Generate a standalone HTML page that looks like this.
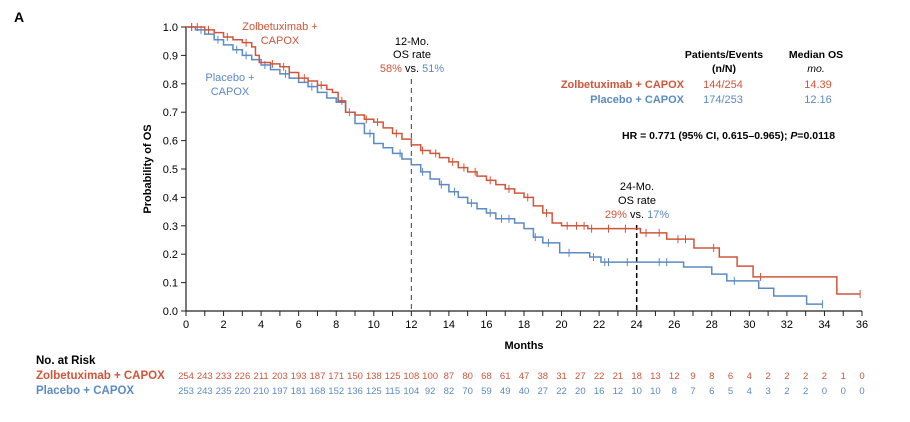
<!DOCTYPE html>
<html><head><meta charset="utf-8"><style>
body{margin:0;background:#fff;width:910px;height:417px;overflow:hidden;font-family:"Liberation Sans",sans-serif}
svg text{font-family:"Liberation Sans",sans-serif}
</style></head><body>
<svg id="chart" width="910" height="417" viewBox="0 0 910 417" xmlns="http://www.w3.org/2000/svg">
<text x="14" y="22" font-size="14" font-weight="bold">A</text>
<g id="axes"></g>
<g id="curves"></g>
<g id="annot">
<text x="280" y="30" font-size="11" fill="#d0553a" text-anchor="middle">Zolbetuximab +</text>
<text x="280" y="44" font-size="11" fill="#d0553a" text-anchor="middle">CAPOX</text>
<text x="230" y="81" font-size="11" fill="#5b8ac4" text-anchor="middle">Placebo +</text>
<text x="230" y="95" font-size="11" fill="#5b8ac4" text-anchor="middle">CAPOX</text>
<text x="412" y="45" font-size="11" text-anchor="middle">12-Mo.</text>
<text x="412" y="58" font-size="11" text-anchor="middle">OS rate</text>
<text x="412" y="72" font-size="11" text-anchor="middle"><tspan fill="#d0553a">58%</tspan> vs. <tspan fill="#5b8ac4">51%</tspan></text>
<text x="637" y="190" font-size="11" text-anchor="middle">24-Mo.</text>
<text x="637" y="204" font-size="11" text-anchor="middle">OS rate</text>
<text x="637" y="218" font-size="11" text-anchor="middle"><tspan fill="#d0553a">29%</tspan> vs. <tspan fill="#5b8ac4">17%</tspan></text>
<text x="724" y="58" font-size="10.5" font-weight="bold" text-anchor="middle">Patients/Events</text>
<text x="724" y="72" font-size="10.5" font-weight="bold" text-anchor="middle">(n/N)</text>
<text x="816" y="58" font-size="10.5" font-weight="bold" text-anchor="middle">Median OS</text>
<text x="816" y="72" font-size="10.5" font-style="italic" text-anchor="middle">mo.</text>
<text x="684" y="88" font-size="11" font-weight="bold" fill="#d0553a" text-anchor="end">Zolbetuximab + CAPOX</text>
<text x="723" y="88" font-size="11" fill="#d0553a" text-anchor="middle">144/254</text>
<text x="818" y="88" font-size="11" fill="#d0553a" text-anchor="middle">14.39</text>
<text x="684" y="103" font-size="11" font-weight="bold" fill="#5b8ac4" text-anchor="end">Placebo + CAPOX</text>
<text x="723" y="103" font-size="11" fill="#5b8ac4" text-anchor="middle">174/253</text>
<text x="818" y="103" font-size="11" fill="#5b8ac4" text-anchor="middle">12.16</text>
<text x="622" y="139" font-size="10.5" font-weight="bold">HR = 0.771 (95% CI, 0.615–0.965); <tspan font-style="italic">P</tspan>=0.0118</text>
<text x="36" y="364" font-size="11.5" font-weight="bold">No. at Risk</text>
<text x="36" y="379" font-size="11.5" font-weight="bold" fill="#d0553a">Zolbetuximab + CAPOX</text>
<text x="36" y="394" font-size="11.5" font-weight="bold" fill="#5b8ac4">Placebo + CAPOX</text>
</g>
<g id="risk"></g>
</svg>
<script>
const xTicks=[0,2,4,6,8,10,12,14,16,18,20,22,24,26,28,30,32,34,36];
const yTicks=[0,0.1,0.2,0.3,0.4,0.5,0.6,0.7,0.8,0.9,1.0];
const zolbeT=[0,0.5,1,1.5,2,2.5,3,3.5,3.7,3.9,4.5,5,5.5,6,6.5,7,7.5,7.8,8.1,8.5,9,9.5,10,10.5,11,11.5,12,12.5,13,13.5,14,14.5,15,15.5,16,16.5,17,17.5,18,18.5,19,19.5,20,21.4,24.2,25.6,27.05,28.4,29.35,30.2,34.66];
const zolbeS=[1,1,0.99,0.98,0.965,0.955,0.945,0.93,0.9,0.875,0.87,0.86,0.84,0.82,0.81,0.795,0.78,0.77,0.74,0.70,0.69,0.675,0.665,0.645,0.625,0.605,0.585,0.565,0.555,0.54,0.525,0.505,0.49,0.475,0.46,0.445,0.43,0.415,0.40,0.37,0.345,0.31,0.30,0.29,0.275,0.253,0.222,0.19,0.158,0.12,0.06];
const zolbeEnd=35.9;
const zolbeCens=[0.3,0.6,1.2,2.2,3.2,4.6,5.2,6.3,7.2,8.3,9.6,10.2,11.2,12.6,13.3,14.2,14.8,15.4,16.2,17.2,18.2,19.2,20.3,20.8,21.2,21.6,22.5,23.4,24.5,25.2,26.2,26.6,28.1,30.6,35.9];
const placT=[0,0.5,1,1.5,2,2.5,3,3.5,4,4.5,5,5.5,6,6.5,7,7.5,8,8.5,9,9.5,10,10.5,11,11.5,12,12.5,13,13.5,14,14.5,15,15.5,16,16.5,17.5,18,18.5,19,19.9,21.5,22.1,26.5,28,28.8,30.5,31.3,33.05];
const placS=[1,0.99,0.975,0.955,0.937,0.92,0.90,0.885,0.866,0.85,0.835,0.82,0.805,0.79,0.77,0.75,0.735,0.70,0.66,0.625,0.59,0.575,0.555,0.535,0.515,0.49,0.465,0.445,0.42,0.40,0.38,0.36,0.345,0.325,0.31,0.29,0.26,0.24,0.205,0.19,0.172,0.155,0.13,0.106,0.08,0.053,0.024];
const placEnd=33.9;
const placCens=[0.3,0.8,1.7,2.7,3.2,4.2,5.3,6.7,8.7,9.8,11.4,12.6,13.6,14.3,15.2,16.2,16.8,17.2,18.6,19.3,20.4,21.7,22.3,22.5,23.5,25.2,25.6,29.2,33.9];
const zolbeRisk=[254,243,233,226,211,203,193,187,171,150,138,125,108,100,87,80,68,61,47,38,31,27,22,21,18,13,12,9,8,6,4,2,2,2,2,1,0];
const placRisk=[253,243,235,220,210,197,181,168,152,136,125,115,104,92,82,70,59,49,40,27,22,20,16,12,10,10,8,7,6,5,4,3,2,2,0,0,0];
const RED="#d0553a",BLUE="#5b8ac4",NS="http://www.w3.org/2000/svg";
const X0=186,X1=862,Y0=311,Y1=27;
const xs=m=>X0+m/36*(X1-X0), ys=v=>Y0-v*(Y0-Y1);
function mk(tag,attrs,parent,text){const e=document.createElementNS(NS,tag);for(const k in attrs)e.setAttribute(k,attrs[k]);if(text!=null)e.textContent=text;parent.appendChild(e);return e;}
const axes=document.getElementById('axes');
let l=mk('line',{x1:X0,y1:Y1,x2:X0,y2:Y0,stroke:'#222','stroke-width':1.2},axes);


l=mk('line',{x1:X0,y1:Y0,x2:X1,y2:Y0,stroke:'#222','stroke-width':1.2},axes);


yTicks.forEach(v=>{mk('line',{x1:X0-5,y1:ys(v),x2:X0,y2:ys(v),stroke:'#222'},axes);
 const t=mk('text',{x:X0-8,y:ys(v)+4,'font-size':11,'text-anchor':'end'},axes,v.toFixed(1));
 
 });
for(let m=0;m<=36;m++){mk('line',{x1:xs(m),y1:Y0,x2:xs(m),y2:Y0+5,stroke:'#222'},axes);}
xTicks.forEach(m=>{const t=mk('text',{x:xs(m),y:Y0+17,'font-size':11,'text-anchor':'middle'},axes,String(m));
 
 });
let t=mk('text',{x:524,y:349,'font-size':11,'font-weight':'bold','text-anchor':'middle'},axes,'Months');


t=mk('text',{x:0,y:0,'font-size':11,'font-weight':'bold','text-anchor':'middle',transform:'translate(151,169) rotate(-90)'},axes,'Probability of OS');


l=mk('line',{x1:xs(12),y1:79,x2:xs(12),y2:Y0,stroke:'#444','stroke-dasharray':'5,4','stroke-width':1},axes);


l=mk('line',{x1:xs(24),y1:225,x2:xs(24),y2:Y0,stroke:'#000','stroke-dasharray':'5,3','stroke-width':1.5},axes);


const cur=document.getElementById('curves');
function surv(T,S,m){let v=S[0];for(let i=0;i<T.length;i++)if(T[i]<=m)v=S[i];return v;}
function drawCurve(T,S,end,cens,color,name){
 let d='M'+xs(T[0])+','+ys(S[0]);
 for(let i=1;i<T.length;i++){d+=' H'+xs(T[i])+' V'+ys(S[i]);}
 d+=' H'+xs(end);
 const p=mk('path',{d:d,fill:'none',stroke:color,'stroke-width':1.5},cur);
 
 
 cens.forEach(m=>{const y=ys(surv(T,S,m));const c=mk('line',{x1:xs(m),y1:y-4,x2:xs(m),y2:y+4,stroke:color,'stroke-width':1},cur);
  
  });
}
drawCurve(placT,placS,placEnd,placCens,BLUE,'placebo');
drawCurve(zolbeT,zolbeS,zolbeEnd,zolbeCens,RED,'zolbetuximab');
const risk=document.getElementById('risk');
zolbeRisk.forEach((n,i)=>{const e=mk('text',{x:xs(i),y:379,'font-size':9.5,fill:RED,'text-anchor':'middle'},risk,String(n));
 
 });
placRisk.forEach((n,i)=>{const e=mk('text',{x:xs(i),y:394,'font-size':9.5,fill:BLUE,'text-anchor':'middle'},risk,String(n));
 
 });
</script>
</body></html>
